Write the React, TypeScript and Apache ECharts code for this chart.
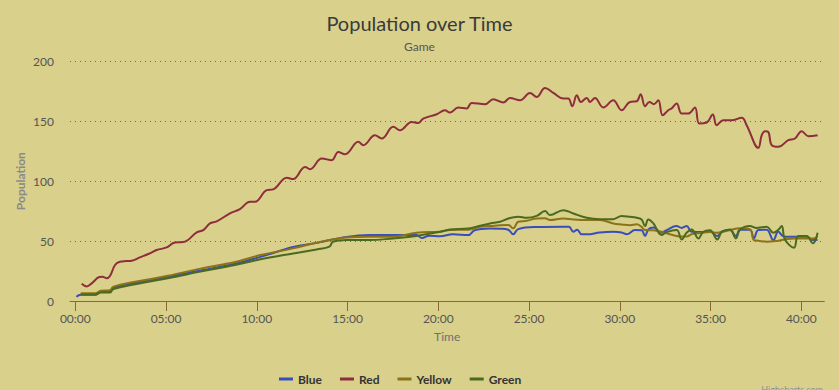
import React, { useEffect, useRef } from "react";
import * as echarts from "echarts";

// Time in minutes, value = population
const blueData: number[][] = [
  [0.06, 3.5], [0.3, 5.3], [1.1, 5.3], [1.4, 7.5], [1.9, 7.8], [2.1, 11], [3.3, 15], [5.1, 20],
  [6.9, 25.5], [8.8, 31], [10.2, 36.8], [12.0, 45], [13.3, 48.5], [14.95, 53.5], [16.2, 55],
  [17.5, 55], [18.8, 55], [19.1, 52.5], [19.5, 54.5], [20.1, 54], [20.8, 55.6], [21.65, 55],
  [22.0, 59], [22.85, 60.5], [23.4, 60.3], [23.85, 59.5], [24.13, 55.6], [24.4, 60], [25.4, 61.7],
  [26.9, 61.9], [27.2, 61.9], [27.44, 57.8], [27.65, 59.5], [27.9, 55.6], [28.2, 55.6], [28.9, 57.2],
  [29.64, 57.8], [30.1, 57.2], [30.38, 55.6], [30.84, 59.2], [31.2, 59], [31.39, 54.2], [31.57, 59.7],
  [31.85, 61.4], [32.3, 57], [32.58, 59.2], [33.13, 62.5], [33.41, 61], [33.68, 62.5], [33.96, 57.8],
  [34.6, 57.5], [34.97, 58], [35.37, 54.2], [35.62, 58], [36.07, 59.2], [36.4, 54.2], [36.62, 59.5],
  [37.17, 59.5], [37.39, 52.2], [37.63, 59.2], [38.09, 59.5], [38.46, 50.8], [38.73, 58], [38.92, 55],
  [39.1, 53.6], [39.6, 53.6], [40.3, 53.6], [40.63, 50.8], [40.9, 51],
];

const redData: number[][] = [
  [0.35, 14.4], [0.63, 12.2], [0.9, 14.7], [1.32, 20], [1.5, 20.3], [1.73, 18.9], [1.91, 20.8],
  [2.19, 30], [2.46, 32.8], [2.83, 33.3], [3.1, 33.6], [3.56, 36.4], [4.02, 39.2], [4.48, 42.5],
  [5.03, 44.7], [5.49, 48.9], [5.95, 49.2], [6.69, 57.2], [7.05, 59.2], [7.42, 64.7], [7.79, 66.4],
  [8.52, 73.1], [9.07, 76.7], [9.63, 82.8], [9.9, 82.8], [10.55, 92.5], [10.9, 93.1], [11.65, 102.8],
  [12.0, 101.7], [12.66, 111.9], [12.93, 110], [13.58, 118.9], [14.13, 117.5], [14.49, 124.4],
  [14.86, 122.5], [15.59, 132.8], [15.87, 130], [16.51, 138.3], [16.88, 135.6], [17.52, 145.3],
  [17.89, 142.5], [18.53, 149.4], [18.9, 148.6], [19.17, 152.2], [19.91, 155.8], [20.37, 159.2],
  [20.64, 157.2], [21.1, 161.4], [21.56, 160.6], [21.84, 165.3], [22.57, 164.2], [23.03, 168.3],
  [23.58, 165.6], [23.95, 169.4], [24.5, 167.5], [25.05, 173.6], [25.42, 170.3], [25.88, 177.8],
  [26.34, 173.6], [26.89, 168.9], [27.16, 168.9], [27.38, 162.5], [27.63, 171.7], [27.86, 166.1],
  [28.18, 169.4], [28.36, 166.1], [28.63, 169.4], [29.09, 161.4], [29.64, 167.5], [30.1, 159.2],
  [30.56, 166.1], [30.93, 166.7], [31.15, 172.5], [31.39, 162.5], [31.63, 166.1], [31.88, 164.2],
  [32.12, 167.5], [32.36, 155], [32.67, 159.2], [32.85, 160.6], [33.13, 164.7], [33.41, 156.4],
  [33.77, 156.4], [34.14, 161.4], [34.38, 148.1], [34.79, 148.9], [35.12, 155.6], [35.34, 146.7],
  [35.7, 150.8], [36.16, 150.8], [36.72, 153], [36.99, 146.7], [37.63, 127.8], [37.82, 138.3],
  [38.0, 141.7], [38.18, 141.1], [38.37, 130], [38.73, 128.6], [39.28, 134.2], [39.65, 135.6],
  [40.02, 141.7], [40.39, 137.5], [40.9, 138.3],
];

const yellowData: number[][] = [
  [0.3, 6.5], [1.1, 6.5], [1.4, 8.5], [1.9, 9], [2.1, 12], [3.3, 16], [5.1, 21], [6.9, 27],
  [8.8, 32.5], [10.2, 38.3], [12.0, 43.9], [13.3, 48.6], [14.95, 53], [16.2, 53.6], [17.5, 53.6],
  [18.8, 57], [20.1, 57.8], [20.64, 59.2], [21.65, 59.5], [22.3, 61.9], [22.85, 62.5], [23.4, 63.3],
  [23.86, 63.5], [24.13, 60.6], [24.4, 66.1], [24.87, 66.9], [25.42, 68.9], [25.88, 69], [26.15, 67.5],
  [26.89, 68.9], [27.44, 68], [28.18, 67.5], [28.91, 67.5], [29.64, 64.7], [30.1, 63.9], [30.56, 63.3],
  [30.93, 64], [31.2, 61.9], [31.39, 59.2], [31.85, 59], [32.3, 57.8], [32.58, 56.5], [33.13, 54.2],
  [33.41, 53.8], [33.68, 53.8], [33.96, 55.8], [34.33, 56.5], [34.97, 57.5], [35.37, 57], [36.07, 59.2],
  [36.62, 60.6], [37.17, 59.8], [37.39, 50.8], [37.63, 50.3], [38.09, 49.4], [38.73, 50.3], [39.1, 51.4],
  [39.6, 52.2], [40.3, 52.2], [40.63, 52.2], [40.9, 53.6],
];

const greenData: number[][] = [
  [0.3, 5.5], [1.1, 5.5], [1.4, 7], [1.9, 7], [2.1, 10], [3.3, 14], [5.1, 19], [6.9, 24.5],
  [8.8, 30], [10.2, 34.8], [12.0, 39.7], [13.3, 43], [14.0, 45.3], [14.2, 49.4], [14.95, 50.8],
  [16.2, 50.8], [17.5, 52.2], [18.8, 54.2], [20.1, 57.8], [20.64, 59.7], [21.65, 60.5], [22.3, 62.8],
  [22.85, 64.7], [23.4, 66.1], [23.86, 68.9], [24.4, 70.3], [24.87, 69.4], [25.42, 71], [25.88, 75],
  [26.15, 71.7], [26.89, 75.8], [27.44, 73], [28.18, 69.4], [28.91, 68.3], [29.64, 68.3], [30.1, 71],
  [30.56, 70.3], [30.93, 69.5], [31.2, 68], [31.39, 62.5], [31.57, 68], [31.85, 64.7], [32.3, 55],
  [32.58, 57.5], [33.13, 59.2], [33.41, 51.4], [33.68, 57], [33.96, 59.7], [34.33, 52.2], [34.6, 57.8],
  [34.97, 59], [35.37, 51.4], [35.62, 57.5], [36.07, 59.7], [36.4, 52.2], [36.62, 59.5], [37.17, 62.5],
  [37.5, 61], [38.09, 61.9], [38.46, 57], [38.73, 59.5], [38.92, 62.5], [39.1, 51.4], [39.6, 44.4],
  [39.83, 54.2], [40.3, 54.2], [40.63, 48.1], [40.9, 57],
];

const seriesNames = ["Blue", "Red", "Yellow", "Green"];
const seriesColors = ["#3a4db8", "#8e2d3c", "#8c7318", "#4a6a1f"];
const xTicks = [0, 5, 10, 15, 20, 25, 30, 35, 40];

const FONT = "Lato, 'Open Sans', sans-serif";

export default function App() {
  const ref = useRef<HTMLDivElement>(null);
  useEffect(() => {
    document.body.style.margin = "0";
    const chart = echarts.init(ref.current!, undefined, { renderer: "svg" });
    const datas = [blueData, redData, yellowData, greenData];
    chart.setOption({
      animation: false,
      backgroundColor: "#d8d08b",
      textStyle: { fontFamily: FONT },
      title: [
        {
          text: "Population over Time",
          left: "center",
          top: 6,
          textStyle: { fontFamily: FONT, fontSize: 20, fontWeight: "normal", color: "#3a3a3a", lineHeight: 24 },
        },
        {
          text: "Game",
          left: "center",
          top: 34,
          textStyle: { fontFamily: FONT, fontSize: 12, fontWeight: "normal", color: "#555", lineHeight: 14 },
        },
      ],
      legend: {
        left: 274,
        top: 368,
        icon: "rect",
        itemWidth: 14,
        itemHeight: 3,
        itemGap: 18,
        data: seriesNames,
        textStyle: { fontFamily: FONT, fontSize: 12, fontWeight: "bold", color: "#333" },
      },
      grid: { left: 70, right: 14.7, top: 61.3, bottom: 89, containLabel: false },
      xAxis: {
        type: "value",
        min: -0.292,
        max: 41.267,
        name: "Time",
        nameLocation: "middle",
        nameGap: 29,
        nameMoveOverlap: false,
        nameTextStyle: { fontFamily: FONT, fontSize: 12, color: "#707070" },
        axisLine: { show: true, lineStyle: { color: "#8a6a2e", width: 1 } },
        axisTick: { show: true, length: 10, lineStyle: { color: "#8a6a2e" }, customValues: xTicks },
        axisLabel: {
          customValues: xTicks,
          margin: 11,
          fontFamily: FONT,
          fontSize: 12,
          color: "#555",
          formatter: (v: number) => String(Math.round(v)).padStart(2, "0") + ":00",
        },
        splitLine: { show: false },
      },
      yAxis: {
        type: "value",
        min: 0,
        max: 200,
        interval: 50,
        name: "Population",
        nameLocation: "middle",
        nameGap: 44,
        nameMoveOverlap: false,
        nameTextStyle: { fontFamily: FONT, fontSize: 12, fontWeight: "bold", color: "#8a8a8a" },
        axisLine: { show: false },
        axisTick: { show: false },
        axisLabel: { margin: 16, fontFamily: FONT, fontSize: 12, color: "#555" },
        splitLine: { show: true, lineStyle: { color: "#8a6a2e", width: 1, type: [1, 4] } },
      },
      series: seriesNames.map((name, i) => ({
        name,
        type: "line",
        data: datas[i],
        smooth: 0.4,
        showSymbol: false,
        symbol: "none",
        color: seriesColors[i],
        lineStyle: { width: 2, color: seriesColors[i] },
        z: 2 + i,
      })),
      graphic: [
        {
          type: "text",
          right: 16,
          top: 385,
          style: { text: "Highcharts.com", fill: "#909090", font: "9px " + FONT },
        },
      ],
    });
    return () => chart.dispose();
  }, []);
  return <div ref={ref} style={{ width: 839, height: 390 }} />;
}
